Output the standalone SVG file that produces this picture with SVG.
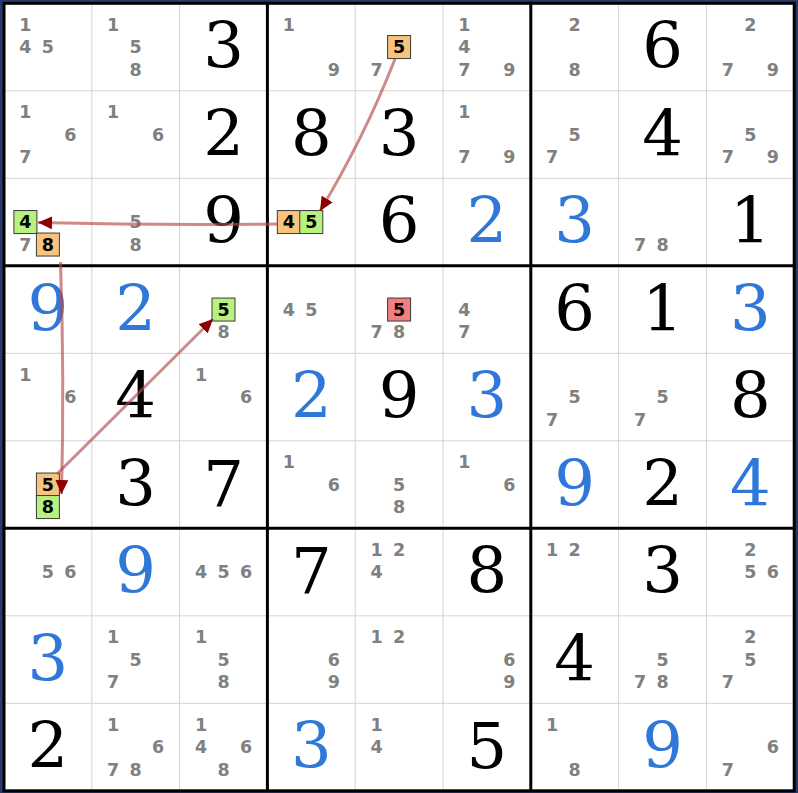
<svg xmlns="http://www.w3.org/2000/svg" width="798" height="793" viewBox="0 0 798 793">
<style>
.c{font-family:"DejaVu Sans",Verdana,sans-serif;font-weight:bold;font-size:17.5px;fill:#808080;text-anchor:middle}
.h{font-family:"DejaVu Sans",Verdana,sans-serif;font-weight:bold;font-size:17.5px;fill:#000;text-anchor:middle}
.g{font-family:"DejaVu Serif","Liberation Serif",serif;font-size:64px;fill:#000;text-anchor:middle}
.s{font-family:"DejaVu Serif","Liberation Serif",serif;font-size:64px;fill:#2f78d9;text-anchor:middle}
.bo{fill:#f8c47c;stroke:#3a3a3a;stroke-width:1}
.bg{fill:#b8f27e;stroke:#3a3a3a;stroke-width:1}
.br{fill:#f08080;stroke:#3a3a3a;stroke-width:1}
.thin{stroke:#d4d4d4;stroke-width:1}
.thick{stroke:#000;stroke-width:3}
.link{fill:none;stroke:#b84848;stroke-opacity:0.65;stroke-width:3;marker-end:url(#ah)}
</style>
<defs>
<marker id="ah" markerUnits="userSpaceOnUse" markerWidth="15" markerHeight="13" refX="14" refY="6.5" orient="auto">
<path d="M0,0 L14,6.5 L0,13 Z" fill="#8b0000"/>
</marker>
</defs>
<rect x="0" y="0" width="798" height="793" fill="#2b3a6a"/>
<rect x="4" y="3.3" width="790.2" height="787.5" fill="#fff"/>
<g id="grid">
<line class="thin" x1="91.8" y1="3.3" x2="91.8" y2="790.8"/>
<line class="thin" x1="179.6" y1="3.3" x2="179.6" y2="790.8"/>
<line class="thin" x1="355.2" y1="3.3" x2="355.2" y2="790.8"/>
<line class="thin" x1="443" y1="3.3" x2="443" y2="790.8"/>
<line class="thin" x1="618.6" y1="3.3" x2="618.6" y2="790.8"/>
<line class="thin" x1="706.4" y1="3.3" x2="706.4" y2="790.8"/>
<line class="thin" x1="4" y1="90.8" x2="794.2" y2="90.8"/>
<line class="thin" x1="4" y1="178.3" x2="794.2" y2="178.3"/>
<line class="thin" x1="4" y1="353.3" x2="794.2" y2="353.3"/>
<line class="thin" x1="4" y1="440.8" x2="794.2" y2="440.8"/>
<line class="thin" x1="4" y1="615.8" x2="794.2" y2="615.8"/>
<line class="thin" x1="4" y1="703.3" x2="794.2" y2="703.3"/>
<line class="thick" x1="267.4" y1="3.3" x2="267.4" y2="790.8"/>
<line class="thick" x1="530.8" y1="3.3" x2="530.8" y2="790.8"/>
<line class="thick" x1="4" y1="265.8" x2="794.2" y2="265.8"/>
<line class="thick" x1="4" y1="528.3" x2="794.2" y2="528.3"/>
<rect x="4" y="3.3" width="790.2" height="787.5" fill="none" stroke="#000" stroke-width="3"/>
</g>
<!-- Row 1 -->
<g id="r1c1" transform="translate(47.9,47.05)"><text class="c" x="-22.5" y="-16.5">1</text><text class="c" x="-22.5" y="6">4</text><text class="c" x="0" y="6">5</text></g>
<g id="r1c2" transform="translate(135.7,47.05)"><text class="c" x="-22.5" y="-16.5">1</text><text class="c" x="0" y="6">5</text><text class="c" x="0" y="28.5">8</text></g>
<g id="r1c3" transform="translate(223.5,47.05)"><text class="g" x="0" y="21">3</text></g>
<g id="r1c4" transform="translate(311.3,47.05)"><text class="c" x="-22.5" y="-16.5">1</text><text class="c" x="22.5" y="28.5">9</text></g>
<g id="r1c5" transform="translate(399.1,47.05)"><rect class="bo" x="-11.5" y="-11.5" width="23" height="23"/><text class="h" x="0" y="6">5</text><text class="c" x="-22.5" y="28.5">7</text></g>
<g id="r1c6" transform="translate(486.9,47.05)"><text class="c" x="-22.5" y="-16.5">1</text><text class="c" x="-22.5" y="6">4</text><text class="c" x="-22.5" y="28.5">7</text><text class="c" x="22.5" y="28.5">9</text></g>
<g id="r1c7" transform="translate(574.7,47.05)"><text class="c" x="0" y="-16.5">2</text><text class="c" x="0" y="28.5">8</text></g>
<g id="r1c8" transform="translate(662.5,47.05)"><text class="g" x="0" y="21">6</text></g>
<g id="r1c9" transform="translate(750.3,47.05)"><text class="c" x="0" y="-16.5">2</text><text class="c" x="-22.5" y="28.5">7</text><text class="c" x="22.5" y="28.5">9</text></g>
<!-- Row 2 -->
<g id="r2c1" transform="translate(47.9,134.55)"><text class="c" x="-22.5" y="-16.5">1</text><text class="c" x="22.5" y="6">6</text><text class="c" x="-22.5" y="28.5">7</text></g>
<g id="r2c2" transform="translate(135.7,134.55)"><text class="c" x="-22.5" y="-16.5">1</text><text class="c" x="22.5" y="6">6</text></g>
<g id="r2c3" transform="translate(223.5,134.55)"><text class="g" x="0" y="21">2</text></g>
<g id="r2c4" transform="translate(311.3,134.55)"><text class="g" x="0" y="21">8</text></g>
<g id="r2c5" transform="translate(399.1,134.55)"><text class="g" x="0" y="21">3</text></g>
<g id="r2c6" transform="translate(486.9,134.55)"><text class="c" x="-22.5" y="-16.5">1</text><text class="c" x="-22.5" y="28.5">7</text><text class="c" x="22.5" y="28.5">9</text></g>
<g id="r2c7" transform="translate(574.7,134.55)"><text class="c" x="0" y="6">5</text><text class="c" x="-22.5" y="28.5">7</text></g>
<g id="r2c8" transform="translate(662.5,134.55)"><text class="g" x="0" y="21">4</text></g>
<g id="r2c9" transform="translate(750.3,134.55)"><text class="c" x="0" y="6">5</text><text class="c" x="-22.5" y="28.5">7</text><text class="c" x="22.5" y="28.5">9</text></g>
<!-- Row 3 -->
<g id="r3c1" transform="translate(47.9,222.05)"><rect class="bg" x="-34" y="-11.5" width="23" height="23"/><text class="h" x="-22.5" y="6">4</text><text class="c" x="-22.5" y="28.5">7</text><rect class="bo" x="-11.5" y="11" width="23" height="23"/><text class="h" x="0" y="28.5">8</text></g>
<g id="r3c2" transform="translate(135.7,222.05)"><text class="c" x="0" y="6">5</text><text class="c" x="0" y="28.5">8</text></g>
<g id="r3c3" transform="translate(223.5,222.05)"><text class="g" x="0" y="21">9</text></g>
<g id="r3c4" transform="translate(311.3,222.05)"><rect class="bo" x="-34" y="-11.5" width="23" height="23"/><text class="h" x="-22.5" y="6">4</text><rect class="bg" x="-11.5" y="-11.5" width="23" height="23"/><text class="h" x="0" y="6">5</text></g>
<g id="r3c5" transform="translate(399.1,222.05)"><text class="g" x="0" y="21">6</text></g>
<g id="r3c6" transform="translate(486.9,222.05)"><text class="s" x="0" y="21">2</text></g>
<g id="r3c7" transform="translate(574.7,222.05)"><text class="s" x="0" y="21">3</text></g>
<g id="r3c8" transform="translate(662.5,222.05)"><text class="c" x="-22.5" y="28.5">7</text><text class="c" x="0" y="28.5">8</text></g>
<g id="r3c9" transform="translate(750.3,222.05)"><text class="g" x="0" y="21">1</text></g>
<!-- Row 4 -->
<g id="r4c1" transform="translate(47.9,309.55)"><text class="s" x="0" y="21">9</text></g>
<g id="r4c2" transform="translate(135.7,309.55)"><text class="s" x="0" y="21">2</text></g>
<g id="r4c3" transform="translate(223.5,309.55)"><rect class="bg" x="-11.5" y="-11.5" width="23" height="23"/><text class="h" x="0" y="6">5</text><text class="c" x="0" y="28.5">8</text></g>
<g id="r4c4" transform="translate(311.3,309.55)"><text class="c" x="-22.5" y="6">4</text><text class="c" x="0" y="6">5</text></g>
<g id="r4c5" transform="translate(399.1,309.55)"><rect class="br" x="-11.5" y="-11.5" width="23" height="23"/><text class="h" x="0" y="6">5</text><text class="c" x="-22.5" y="28.5">7</text><text class="c" x="0" y="28.5">8</text></g>
<g id="r4c6" transform="translate(486.9,309.55)"><text class="c" x="-22.5" y="6">4</text><text class="c" x="-22.5" y="28.5">7</text></g>
<g id="r4c7" transform="translate(574.7,309.55)"><text class="g" x="0" y="21">6</text></g>
<g id="r4c8" transform="translate(662.5,309.55)"><text class="g" x="0" y="21">1</text></g>
<g id="r4c9" transform="translate(750.3,309.55)"><text class="s" x="0" y="21">3</text></g>
<!-- Row 5 -->
<g id="r5c1" transform="translate(47.9,397.05)"><text class="c" x="-22.5" y="-16.5">1</text><text class="c" x="22.5" y="6">6</text></g>
<g id="r5c2" transform="translate(135.7,397.05)"><text class="g" x="0" y="21">4</text></g>
<g id="r5c3" transform="translate(223.5,397.05)"><text class="c" x="-22.5" y="-16.5">1</text><text class="c" x="22.5" y="6">6</text></g>
<g id="r5c4" transform="translate(311.3,397.05)"><text class="s" x="0" y="21">2</text></g>
<g id="r5c5" transform="translate(399.1,397.05)"><text class="g" x="0" y="21">9</text></g>
<g id="r5c6" transform="translate(486.9,397.05)"><text class="s" x="0" y="21">3</text></g>
<g id="r5c7" transform="translate(574.7,397.05)"><text class="c" x="0" y="6">5</text><text class="c" x="-22.5" y="28.5">7</text></g>
<g id="r5c8" transform="translate(662.5,397.05)"><text class="c" x="0" y="6">5</text><text class="c" x="-22.5" y="28.5">7</text></g>
<g id="r5c9" transform="translate(750.3,397.05)"><text class="g" x="0" y="21">8</text></g>
<!-- Row 6 -->
<g id="r6c1" transform="translate(47.9,484.55)"><rect class="bo" x="-11.5" y="-11.5" width="23" height="23"/><text class="h" x="0" y="6">5</text><rect class="bg" x="-11.5" y="11" width="23" height="23"/><text class="h" x="0" y="28.5">8</text></g>
<g id="r6c2" transform="translate(135.7,484.55)"><text class="g" x="0" y="21">3</text></g>
<g id="r6c3" transform="translate(223.5,484.55)"><text class="g" x="0" y="21">7</text></g>
<g id="r6c4" transform="translate(311.3,484.55)"><text class="c" x="-22.5" y="-16.5">1</text><text class="c" x="22.5" y="6">6</text></g>
<g id="r6c5" transform="translate(399.1,484.55)"><text class="c" x="0" y="6">5</text><text class="c" x="0" y="28.5">8</text></g>
<g id="r6c6" transform="translate(486.9,484.55)"><text class="c" x="-22.5" y="-16.5">1</text><text class="c" x="22.5" y="6">6</text></g>
<g id="r6c7" transform="translate(574.7,484.55)"><text class="s" x="0" y="21">9</text></g>
<g id="r6c8" transform="translate(662.5,484.55)"><text class="g" x="0" y="21">2</text></g>
<g id="r6c9" transform="translate(750.3,484.55)"><text class="s" x="0" y="21">4</text></g>
<!-- Row 7 -->
<g id="r7c1" transform="translate(47.9,572.05)"><text class="c" x="0" y="6">5</text><text class="c" x="22.5" y="6">6</text></g>
<g id="r7c2" transform="translate(135.7,572.05)"><text class="s" x="0" y="21">9</text></g>
<g id="r7c3" transform="translate(223.5,572.05)"><text class="c" x="-22.5" y="6">4</text><text class="c" x="0" y="6">5</text><text class="c" x="22.5" y="6">6</text></g>
<g id="r7c4" transform="translate(311.3,572.05)"><text class="g" x="0" y="21">7</text></g>
<g id="r7c5" transform="translate(399.1,572.05)"><text class="c" x="-22.5" y="-16.5">1</text><text class="c" x="0" y="-16.5">2</text><text class="c" x="-22.5" y="6">4</text></g>
<g id="r7c6" transform="translate(486.9,572.05)"><text class="g" x="0" y="21">8</text></g>
<g id="r7c7" transform="translate(574.7,572.05)"><text class="c" x="-22.5" y="-16.5">1</text><text class="c" x="0" y="-16.5">2</text></g>
<g id="r7c8" transform="translate(662.5,572.05)"><text class="g" x="0" y="21">3</text></g>
<g id="r7c9" transform="translate(750.3,572.05)"><text class="c" x="0" y="-16.5">2</text><text class="c" x="0" y="6">5</text><text class="c" x="22.5" y="6">6</text></g>
<!-- Row 8 -->
<g id="r8c1" transform="translate(47.9,659.55)"><text class="s" x="0" y="21">3</text></g>
<g id="r8c2" transform="translate(135.7,659.55)"><text class="c" x="-22.5" y="-16.5">1</text><text class="c" x="0" y="6">5</text><text class="c" x="-22.5" y="28.5">7</text></g>
<g id="r8c3" transform="translate(223.5,659.55)"><text class="c" x="-22.5" y="-16.5">1</text><text class="c" x="0" y="6">5</text><text class="c" x="0" y="28.5">8</text></g>
<g id="r8c4" transform="translate(311.3,659.55)"><text class="c" x="22.5" y="6">6</text><text class="c" x="22.5" y="28.5">9</text></g>
<g id="r8c5" transform="translate(399.1,659.55)"><text class="c" x="-22.5" y="-16.5">1</text><text class="c" x="0" y="-16.5">2</text></g>
<g id="r8c6" transform="translate(486.9,659.55)"><text class="c" x="22.5" y="6">6</text><text class="c" x="22.5" y="28.5">9</text></g>
<g id="r8c7" transform="translate(574.7,659.55)"><text class="g" x="0" y="21">4</text></g>
<g id="r8c8" transform="translate(662.5,659.55)"><text class="c" x="0" y="6">5</text><text class="c" x="-22.5" y="28.5">7</text><text class="c" x="0" y="28.5">8</text></g>
<g id="r8c9" transform="translate(750.3,659.55)"><text class="c" x="0" y="-16.5">2</text><text class="c" x="0" y="6">5</text><text class="c" x="-22.5" y="28.5">7</text></g>
<!-- Row 9 -->
<g id="r9c1" transform="translate(47.9,747.05)"><text class="g" x="0" y="21">2</text></g>
<g id="r9c2" transform="translate(135.7,747.05)"><text class="c" x="-22.5" y="-16.5">1</text><text class="c" x="22.5" y="6">6</text><text class="c" x="-22.5" y="28.5">7</text><text class="c" x="0" y="28.5">8</text></g>
<g id="r9c3" transform="translate(223.5,747.05)"><text class="c" x="-22.5" y="-16.5">1</text><text class="c" x="-22.5" y="6">4</text><text class="c" x="22.5" y="6">6</text><text class="c" x="0" y="28.5">8</text></g>
<g id="r9c4" transform="translate(311.3,747.05)"><text class="s" x="0" y="21">3</text></g>
<g id="r9c5" transform="translate(399.1,747.05)"><text class="c" x="-22.5" y="-16.5">1</text><text class="c" x="-22.5" y="6">4</text></g>
<g id="r9c6" transform="translate(486.9,747.05)"><text class="g" x="0" y="21">5</text></g>
<g id="r9c7" transform="translate(574.7,747.05)"><text class="c" x="-22.5" y="-16.5">1</text><text class="c" x="0" y="28.5">8</text></g>
<g id="r9c8" transform="translate(662.5,747.05)"><text class="s" x="0" y="21">9</text></g>
<g id="r9c9" transform="translate(750.3,747.05)"><text class="c" x="22.5" y="6">6</text><text class="c" x="-22.5" y="28.5">7</text></g>
<g id="links">
<path class="link" d="M395,59 Q364,138 320,211"/>
<path class="link" d="M277,224 Q160,225.5 38,222.5"/>
<path class="link" d="M60.5,262 Q64.5,380 61.5,494"/>
<path class="link" d="M57,474 L213,319"/>
</g>
</svg>
